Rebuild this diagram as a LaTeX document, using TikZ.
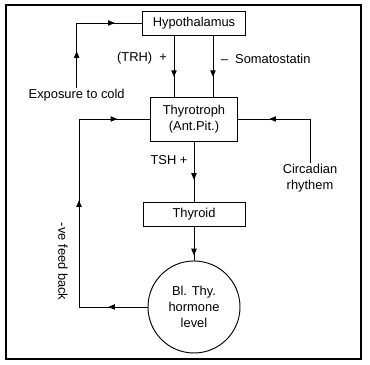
\documentclass[tikz,border=0pt]{standalone}
\usepackage{fontspec}
\setmainfont{Liberation Sans}
\usepackage{tikz}
\usetikzlibrary{
    positioning,
    arrows.meta,
    calc,
    decorations.markings,
}
\tikzset{
    % Node styles
    box/.style={rectangle, draw, line width=0.8pt, minimum height=0.72cm,
                inner sep=0pt, align=center},
    level/.style={circle, draw, line width=0.8pt, minimum size=2.76cm,
                  inner sep=0pt, align=center},
    annot/.style={inner sep=1pt, align=center},
    % Connector styles
    flow/.style={draw, line width=0.8pt, postaction={decorate}},
    tip at/.style={decoration={markings,
        mark=at position #1 with {\arrow{Triangle[length=2mm, width=1.6mm]}}}},
}

\begin{document}
\begin{tikzpicture}[
    font=\fontsize{11}{13.5}\selectfont,
]
    \useasboundingbox (0,0) rectangle (11.1,10.95);
    \draw[line width=1.7pt] (0.18,0.18) rectangle (10.83,10.8);

    % Main chain
    \node[box, minimum width=3.09cm] (hypo) at (5.82, 10.26) {Hypothalamus};
    \node[box, minimum width=2.61cm, minimum height=1.32cm] (thyro) at (5.82, 7.38) {Thyrotroph\\(Ant.Pit.)};
    \node[box, minimum width=3.06cm] (thyroid) at (5.82, 4.53) {Thyroid};
    \node[level] (blood) at (5.82, 1.74) {Bl. Thy.\\hormone\\level};

    % Hypothalamus -> Thyrotroph
    \draw[flow, tip at=0.68] ([xshift=-0.6cm]hypo.south) -- ([xshift=-0.6cm]thyro.north);
    \draw[flow, tip at=0.68] ([xshift=0.57cm]hypo.south) -- ([xshift=0.57cm]thyro.north);
    \node[annot] (trh) at (4.26, 9.21) {(TRH)\ \ +};
    \node[annot] (soma) at (7.97, 9.18) {--\ \ Somatostatin};

    % Thyrotroph -> Thyroid -> level
    \draw[flow, tip at=0.64] (thyro) -- (thyroid);
    \node[annot] (tsh) at (5.07, 6.15) {TSH +};
    \draw[flow, tip at=0.85] (thyroid) -- (blood);

    % Exposure to cold
    \node[annot] (cold) at (2.3, 8.1) {Exposure to cold};
    \draw[flow, tip at=0.28, tip at=0.79] (cold.north) |- (hypo.west);

    % Circadian rhythem
    \node[annot] (circ) at (9.3, 5.6) {Circadian\\rhythem};
    \draw[flow, tip at=0.73] (circ.north) |- (thyro.east);

    % Feed back
    \coordinate (fb) at (2.37, 1.74);
    \draw[flow, tip at=0.12, tip at=0.535, tip at=0.9] (blood.west) -- (fb) |- (thyro.west);
    \node[annot, rotate=-90] (fbtext) at (1.89, 3.1) {-ve feed back};
\end{tikzpicture}
\end{document}
